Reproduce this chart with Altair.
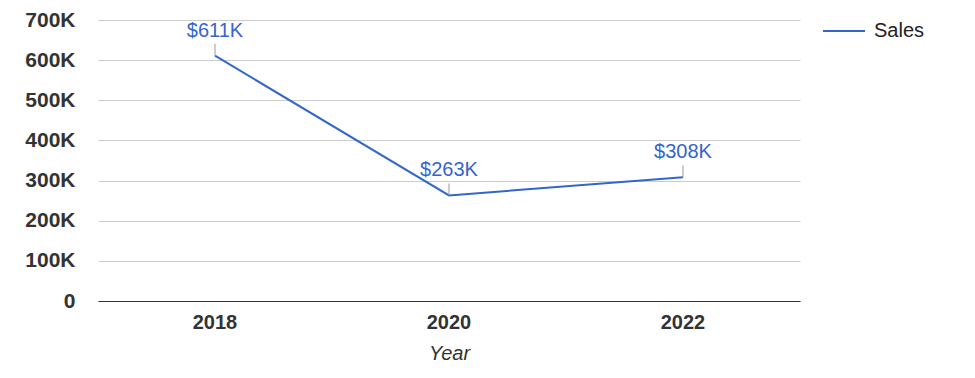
import altair as alt
import pandas as pd

years = ["2018", "2020", "2022"]
sales = [611000, 263000, 308000]
labels = ["$611K", "$263K", "$308K"]
series = ["Sales", "Sales", "Sales"]

df = pd.DataFrame({"Year": years, "Sales": sales, "Label": labels, "Series": series})

FONT = "Liberation Sans"
BLUE = "#3366cc"

x = alt.X("Year:N", scale=alt.Scale(paddingOuter=0.5, paddingInner=1),
          axis=alt.Axis(title="Year", labelAngle=0, ticks=False, labelFont=FONT,
                        labelFontSize=20, labelFontWeight="bold", labelColor="#333333",
                        labelPadding=11, titleFont=FONT, titleFontSize=20,
                        titleFontStyle="italic", titleFontWeight="normal",
                        titleColor="#333333", titlePadding=11, domainColor="#333333",
                        grid=False))
y = alt.Y("Sales:Q", scale=alt.Scale(domain=[0, 700000], nice=False),
          axis=alt.Axis(title=None, values=list(range(0, 700001, 50000)),
                        labelExpr="datum.value % 100000 != 0 ? '' : (datum.value == 0 ? '0' : datum.value/1000 + 'K')",
                        labelFont=FONT, labelFontSize=21, labelFontWeight="bold",
                        labelColor="#333333", labelPadding=23, ticks=False, domain=False,
                        gridColor={"condition": {"test": "datum.value % 100000 == 0", "value": "#cccccc"}, "value": "#ebebeb"}))

line = alt.Chart(df).mark_line(strokeWidth=2).encode(
    x=x, y=y,
    color=alt.Color("Series:N", scale=alt.Scale(domain=["Sales"], range=[BLUE]),
                    legend=alt.Legend(title=None, orient="none", legendX=724, legendY=-11,
                                      symbolType="stroke", symbolSize=1764, symbolStrokeWidth=2,
                                      labelFont=FONT, labelFontSize=20, labelColor="#222222",
                                      labelOffset=8)))

ticks = alt.Chart(df).mark_rule(color="#999999", strokeWidth=1, y2Offset=-12).encode(
    x="Year:N", y="Sales:Q", y2="Sales:Q")

text = alt.Chart(df).mark_text(dy=-25, font=FONT, fontSize=20, color=BLUE).encode(
    x="Year:N", y="Sales:Q", text="Label:N")

chart = alt.layer(line, ticks, text).properties(
    width=702, height=281,
    autosize=alt.AutoSizeParams(type="none"),
    padding={"left": 98, "top": 20, "right": 175, "bottom": 77},
).configure_view(stroke=None)

chart.save("out.html", embed_options={"renderer": "svg", "actions": False})
